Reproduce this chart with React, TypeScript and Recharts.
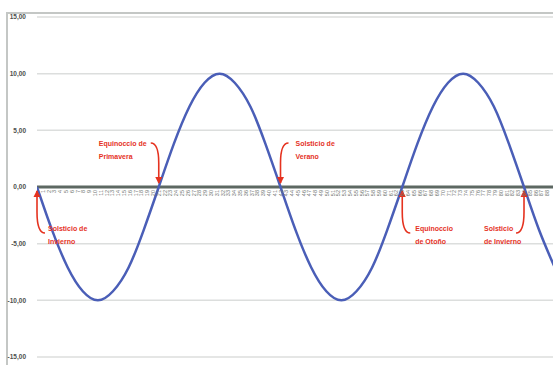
import React from 'react';
import {
  LineChart,
  Line,
  XAxis,
  YAxis,
  CartesianGrid,
  ReferenceLine,
  ReferenceDot,
} from 'recharts';

// posición en el eje (unidades de etiqueta) y valor
const POSICIONES = [
  0, 2.6, 5.3, 7.9, 10.5, 13.1, 15.8, 18.4, 21, 23.6, 26.3, 28.9, 31.5, 34.1, 36.8, 39.4,
  42, 44.6, 47.3, 49.9, 52.5, 55.1, 57.8, 60.4, 63, 65.6, 68.3, 70.9, 73.5, 76.1, 78.8,
  81.4, 84, 86.6, 89.3,
];
const VALORES = [
  0, -3.8, -7.1, -9.2, -10, -9.2, -7.1, -3.8, 0, 3.8, 7.1, 9.2, 10, 9.2, 7.1, 3.8,
  0, -3.8, -7.1, -9.2, -10, -9.2, -7.1, -3.8, 0, 3.8, 7.1, 9.2, 10, 9.2, 7.1,
  3.8, 0, -3.8, -7.1,
];
const Y_TICKS = [-15, -10, -5, 0, 5, 10, 15];
const X_TICKS = Array.from({ length: 88 }, (_, i) => i + 1);

// eventos: posición en el eje, texto, y si la etiqueta va arriba o abajo
const EVENTOS = [
  { x: 0, lineas: ['Solsticio de', 'Invierno'], lado: 'abajo', dx: 11 },
  { x: 21, lineas: ['Equinoccio de', 'Primavera'], lado: 'arriba', dx: -60 },
  { x: 42, lineas: ['Solsticio de', 'Verano'], lado: 'arriba', dx: 15 },
  { x: 63, lineas: ['Equinoccio', 'de Otoño'], lado: 'abajo', dx: 13 },
  { x: 84, lineas: ['Solsticio', 'de Invierno'], lado: 'abajo', dx: -40 },
];

const data = POSICIONES.map((x, i) => ({ x, v: VALORES[i] }));

const W = 553;
const H = 365;
const TOP = 17;
const AXIS_H = 8;
const PLOT_H = H - TOP - AXIS_H;
const ZERO_Y = TOP + PLOT_H / 2;
const ROJO = '#e5321f';
const FONT = '"Liberation Sans", Arial, sans-serif';

const fmt = (v: number) => v.toFixed(2).replace('.', ',');

const XTick = (props: any) => {
  const { x, payload } = props;
  const y0 = ZERO_Y + 3;
  return (
    <text
      x={x}
      y={y0}
      transform={`rotate(-90, ${x}, ${y0})`}
      textAnchor="end"
      dominantBaseline="central"
      fontSize={5.5}
      fill="#6f7571"
      fontFamily={FONT}
    >
      {payload.value}
    </text>
  );
};

const Anotacion = (ev: (typeof EVENTOS)[number]) => (props: any) => {
  const { viewBox } = props;
  const cx = viewBox.x;
  const cy = viewBox.y;
  const arriba = ev.lado === 'arriba';
  const y1 = arriba ? cy - 44 : cy + 41;
  const y2 = y1 + 13;
  // flecha desde el texto hasta el cruce
  const sx = ev.dx < 0 ? cx - 8 : cx + 8;
  const sy = arriba ? cy - 44 : cy + 46;
  const ey = arriba ? cy - 4 : cy + 4;
  const path = `M${sx},${sy} Q${cx},${sy} ${cx},${(sy + ey) / 2} L${cx},${ey}`;
  const head = arriba
    ? `M${cx - 3.5},${ey - 6} L${cx + 3.5},${ey - 6} L${cx},${ey + 1} Z`
    : `M${cx - 3.5},${ey + 6} L${cx + 3.5},${ey + 6} L${cx},${ey - 1} Z`;
  return (
    <g>
      <path d={path} fill="none" stroke={ROJO} strokeWidth={1.6} />
      <path d={head} fill={ROJO} />
      <text
        x={cx + ev.dx}
        y={y1}
        fill={ROJO}
        fontSize={7}
        fontWeight="bold"
        fontFamily={FONT}
        dominantBaseline="central"
      >
        {ev.lineas[0]}
      </text>
      <text
        x={cx + ev.dx}
        y={y2}
        fill={ROJO}
        fontSize={7}
        fontWeight="bold"
        fontFamily={FONT}
        dominantBaseline="central"
      >
        {ev.lineas[1]}
      </text>
    </g>
  );
};

export default function App() {
  return (
    <div
      style={{
        position: 'absolute',
        left: 0,
        top: 0,
        width: W,
        height: H,
        overflow: 'hidden',
        background: '#fff',
      }}
    >
      <div
        style={{
          position: 'absolute',
          left: 6,
          top: 12,
          right: 0,
          bottom: 0,
          borderLeft: '2px solid #c4c7c5',
          borderTop: '2px solid #c4c7c5',
        }}
      />
      <LineChart
        width={W}
        height={H}
        data={data}
        margin={{ top: TOP, right: 0, bottom: 0, left: 0 }}
      >
        <CartesianGrid horizontal vertical={false} stroke="#dcdedd" strokeWidth={1.5} />
        <XAxis
          dataKey="x"
          type="number"
          domain={[0, 89]}
          allowDataOverflow
          ticks={X_TICKS}
          interval={0}
          height={AXIS_H}
          axisLine={false}
          tickLine={false}
          tick={<XTick />}
        />
        <YAxis
          type="number"
          domain={[-15, 15]}
          ticks={Y_TICKS}
          width={37}
          axisLine={false}
          tickLine={false}
          tickMargin={5}
          tickFormatter={fmt}
          tick={{ fontSize: 6.5, fill: '#4d4f4e', fontWeight: 'bold', fontFamily: FONT }}
        />
        <ReferenceLine y={0} stroke="#5d6862" strokeWidth={3} />
        <Line
          type="natural"
          dataKey="v"
          stroke="#4a5eb7"
          strokeWidth={2.5}
          dot={false}
          isAnimationActive={false}
        />
        {EVENTOS.map((ev) => (
          <ReferenceDot
            key={ev.x}
            x={ev.x}
            y={0}
            r={0}
            stroke="none"
            fill="none"
            label={Anotacion(ev)}
          />
        ))}
      </LineChart>
    </div>
  );
}
